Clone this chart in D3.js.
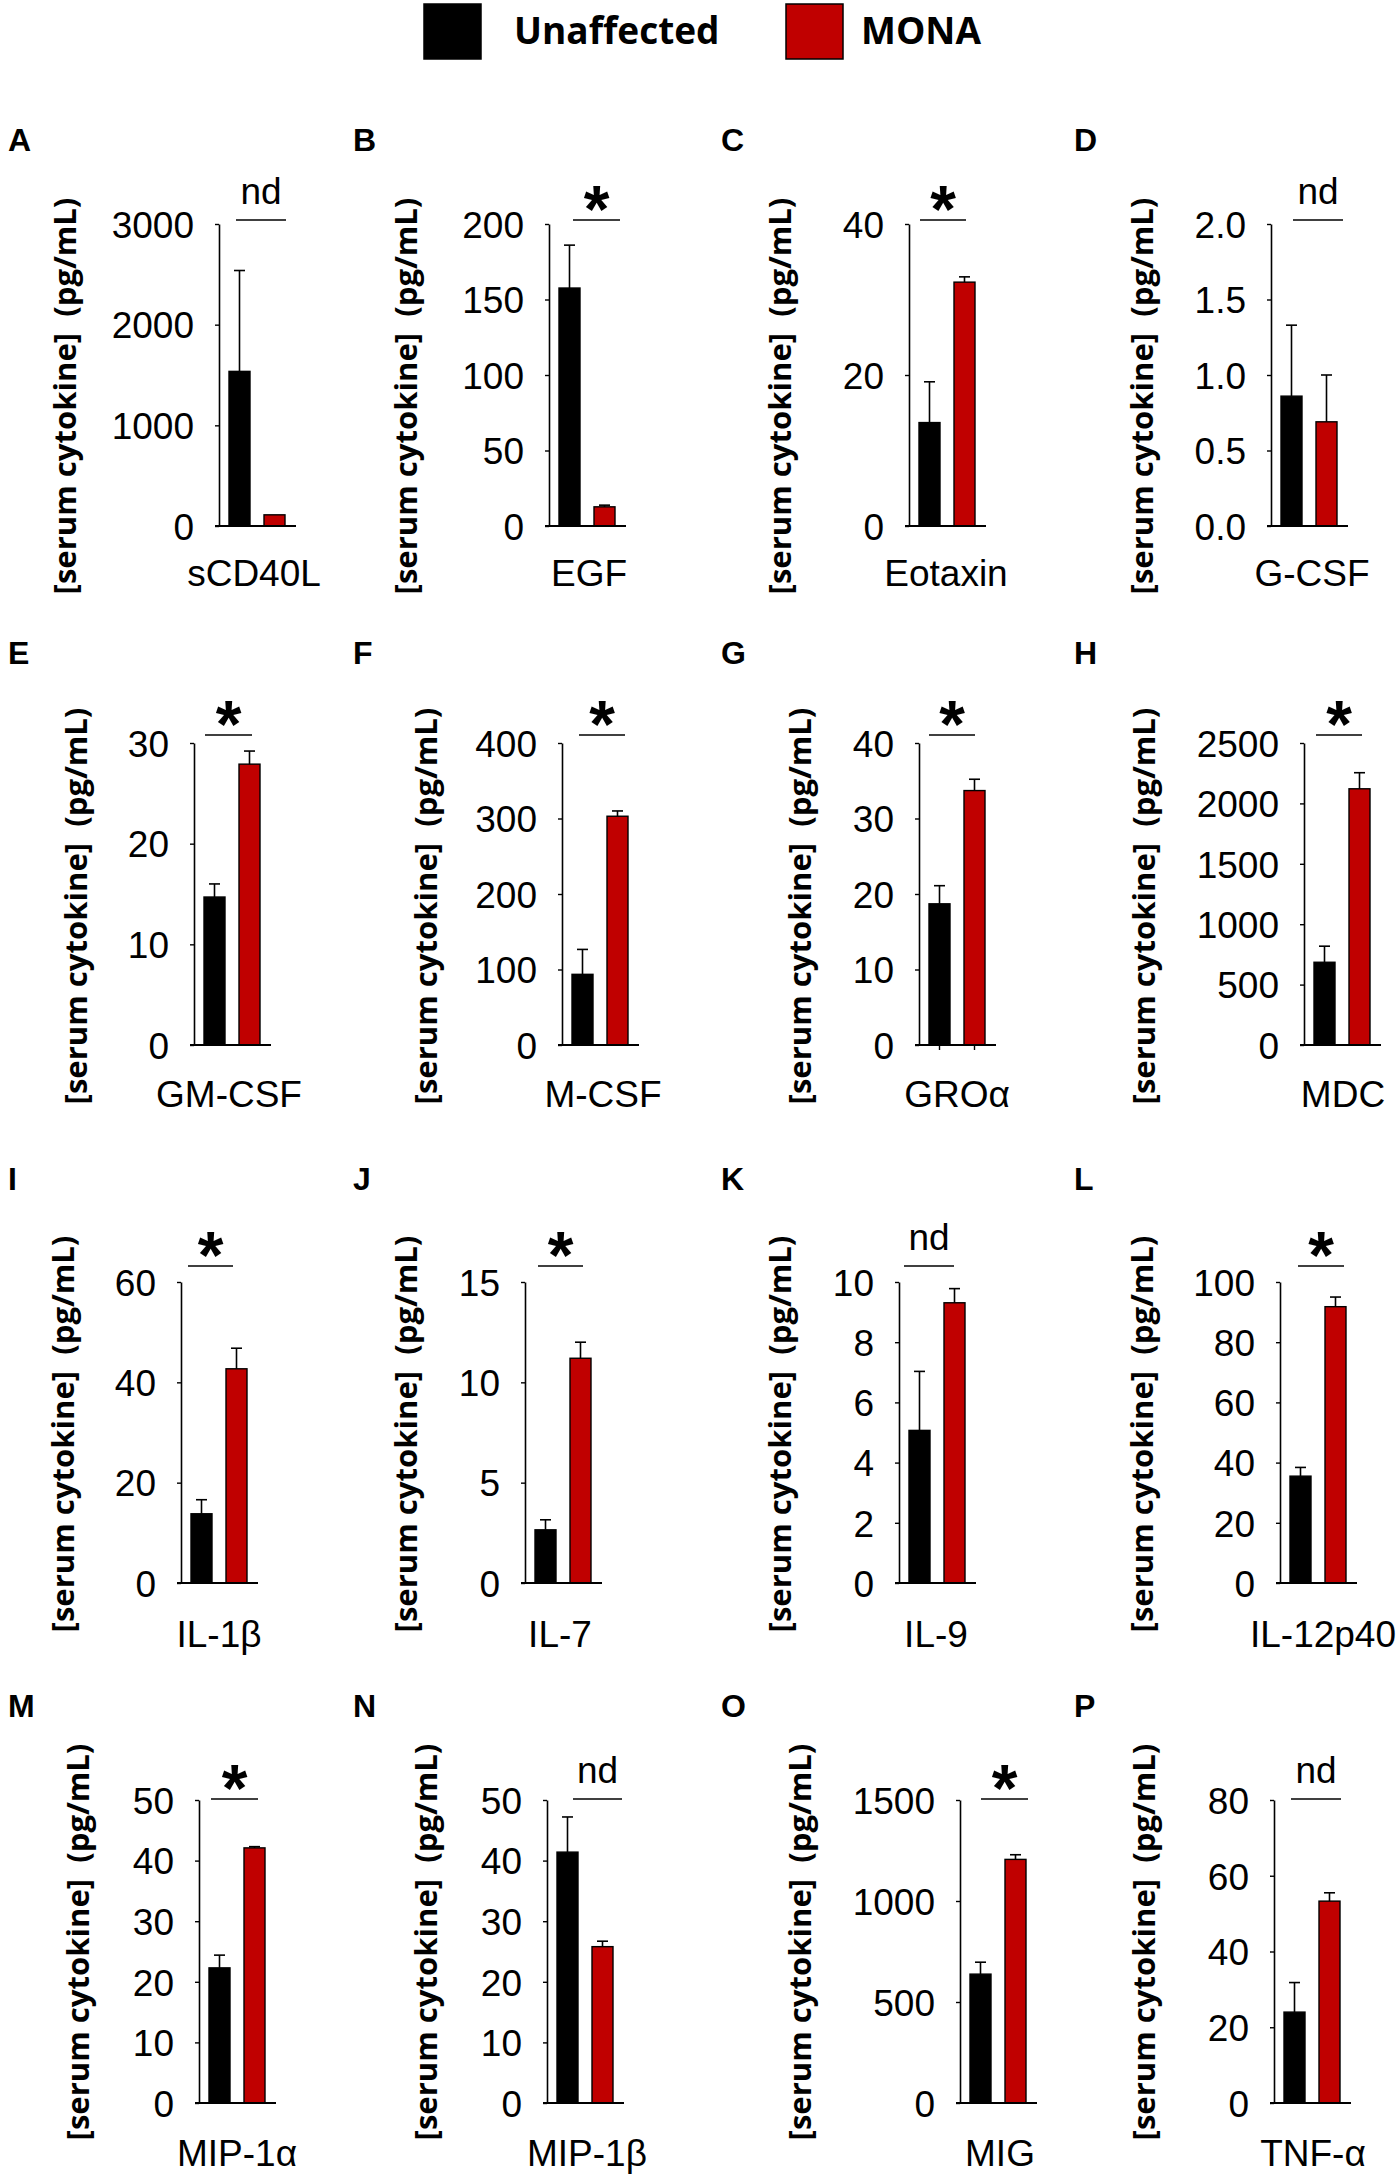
<!DOCTYPE html>
<html>
<head>
<meta charset="utf-8">
<script src="https://cdn.jsdelivr.net/npm/d3@7/dist/d3.min.js"></script>
<style>
  body { margin: 0; background: #fff; }
  svg { display: block; }
</style>
</head>
<body>
<div id="chart"></div>
<script>
// panel letters and cytokine names
var panels = ["A", "B", "C", "D", "E", "F", "G", "H", "I", "J", "K", "L", "M", "N", "O", "P"];
var cytokines = ["sCD40L", "EGF", "Eotaxin", "G-CSF", "GM-CSF", "M-CSF", "GRO\u03b1", "MDC",
  "IL-1\u03b2", "IL-7", "IL-9", "IL-12p40", "MIP-1\u03b1", "MIP-1\u03b2", "MIG", "TNF-\u03b1"];
var groups = ["Unaffected", "MONA"];

// mean values (pg/mL) and upper error (SEM)
var unaffected    = [1536, 157.6, 13.7, 0.86, 14.7, 93.6, 18.7, 685, 13.8, 2.65, 5.07, 35.5, 22.3, 41.4, 638, 24.0];
var unaffectedErr = [1002, 28.4, 5.4, 0.47, 1.3, 33, 2.4, 133, 2.8, 0.5, 1.96, 2.9, 2.1, 5.8, 59, 7.8];
var mona          = [111, 12.7, 32.3, 0.69, 27.9, 303, 33.7, 2121, 42.7, 11.2, 9.31, 91.8, 42.1, 25.8, 1206, 53.3];
var monaErr       = [0, 1.1, 0.7, 0.31, 1.3, 7, 1.5, 133, 4.1, 0.8, 0.47, 3.2, 0.2, 0.9, 23, 2.2];

// y axis range and tick step per panel
var yMax  = [3000, 200, 40, 2.0, 30, 400, 40, 2500, 60, 15, 10, 100, 50, 50, 1500, 80];
var yStep = [1000, 50, 20, 0.5, 10, 100, 10, 500, 20, 5, 2, 20, 10, 10, 500, 20];
var significance = ["nd", "*", "*", "nd", "*", "*", "*", "*", "*", "*", "nd", "*", "*", "nd", "*", "nd"];

// ---- layout (pixel positions only) ----
var W = 1400, H = 2183;
var axisX   = [219, 549, 909, 1271, 194, 562, 919, 1304, 181, 525, 899, 1280, 199, 547, 960, 1274];
var titleX  = [65, 406, 780, 1142, 76, 426, 800, 1144, 63, 406, 780, 1142, 78, 426, 800, 1144];
var catOff  = [35, 40, 37, 41, 35, 41, 38, 39, 38, 35, 37, 43, 38, 40, 40, 39];
var sigOff  = [[17, 67], [24, 71], [11, 57], [22, 72], [11, 58], [17, 63], [10, 56], [12, 58],
               [7, 52], [13, 58], [5, 55], [18, 64], [12, 59], [26, 75], [21, 68], [17, 67]];
var letterX = [8, 353, 721, 1074];
var rowTop    = [224, 743, 1282, 1800];
var rowBottom = [526, 1045, 1583, 2103];
var rowLetterY = [151, 664, 1190, 1717];
var rowSigY    = [220, 735, 1266, 1799];
var rowCatY    = [586, 1107, 1647, 2166];
var rowTitleY  = [396, 906, 1434, 1942];

var colors = { "Unaffected": "#000000", "MONA": "#c00000" };
var numFont = "'Liberation Sans', Arial, sans-serif";
var boldFont = "'Open Sans', 'Noto Sans', sans-serif";

var svg = d3.select("#chart").append("svg")
  .attr("width", W)
  .attr("height", H);

// legend
var legend = svg.append("g");
var legendBoxX = [424, 786];
var legendTextX = [514, 861];
groups.forEach(function(g, i) {
  legend.append("rect")
    .attr("x", legendBoxX[i]).attr("y", 4)
    .attr("width", 57).attr("height", 55)
    .attr("fill", colors[g])
    .attr("stroke", "#000").attr("stroke-width", 1.5);
  legend.append("text")
    .attr("x", legendTextX[i]).attr("y", 44)
    .attr("font-family", boldFont)
    .attr("font-weight", 700)
    .attr("font-size", 37)
    .text(g);
});

// one measured title, reused to fit the reference length
var probe = svg.append("text")
  .attr("font-family", boldFont).attr("font-weight", 700).attr("font-size", 29)
  .attr("xml:space", "preserve")
  .text("[serum cytokine]  (pg/mL)");
var probeLen = probe.node().getComputedTextLength();
probe.remove();
var titleSize = 29 * 397 / probeLen;

panels.forEach(function(p, i) {
  var row = Math.floor(i / 4), col = i % 4;
  var ax = axisX[i];
  var g = svg.append("g");

  var y = d3.scaleLinear()
    .domain([0, yMax[i]])
    .range([rowBottom[row], rowTop[row]]);

  var x = d3.scaleBand()
    .domain(groups)
    .range([ax + 10, ax + 66])
    .paddingInner(0.4);

  var vals = [
    { group: "Unaffected", v: unaffected[i], e: unaffectedErr[i] },
    { group: "MONA", v: mona[i], e: monaErr[i] }
  ];

  // panel letter
  g.append("text")
    .attr("x", letterX[col]).attr("y", rowLetterY[row])
    .attr("font-family", numFont).attr("font-weight", 700).attr("font-size", 32)
    .text(p);

  // y axis
  var ticks = d3.range(0, yMax[i] + yStep[i] / 2, yStep[i]);
  var fmt = yStep[i] < 1 ? d3.format(".1f") : d3.format("d");
  var yAxis = g.append("g")
    .attr("transform", "translate(" + ax + ",0)")
    .call(d3.axisLeft(y).tickValues(ticks).tickFormat(fmt)
      .tickSize(4).tickSizeOuter(0).tickPadding(21));
  yAxis.select(".domain").attr("stroke", "#000").attr("stroke-width", 1.6);
  yAxis.selectAll(".tick line").attr("stroke", "#000").attr("stroke-width", 1.4);
  yAxis.selectAll(".tick text")
    .attr("font-family", numFont).attr("font-size", 37).attr("fill", "#000")
    .attr("dy", "0.36em");

  // bars
  g.selectAll("rect.bar")
    .data(vals)
    .enter().append("rect")
    .attr("class", "bar")
    .attr("x", function(d) { return x(d.group); })
    .attr("y", function(d) { return y(d.v); })
    .attr("width", x.bandwidth())
    .attr("height", function(d) { return y(0) - y(d.v); })
    .attr("fill", function(d) { return colors[d.group]; })
    .attr("stroke", "#000").attr("stroke-width", 1.4);

  // error bars (upper only)
  var err = g.selectAll("g.err")
    .data(vals.filter(function(d) { return d.e > 0; }))
    .enter().append("g").attr("class", "err");
  err.append("line")
    .attr("x1", function(d) { return x(d.group) + x.bandwidth() / 2; })
    .attr("x2", function(d) { return x(d.group) + x.bandwidth() / 2; })
    .attr("y1", function(d) { return y(d.v); })
    .attr("y2", function(d) { return y(d.v + d.e); })
    .attr("stroke", "#000").attr("stroke-width", 1.6);
  err.append("line")
    .attr("x1", function(d) { return x(d.group) + x.bandwidth() / 2 - 5.5; })
    .attr("x2", function(d) { return x(d.group) + x.bandwidth() / 2 + 5.5; })
    .attr("y1", function(d) { return y(d.v + d.e); })
    .attr("y2", function(d) { return y(d.v + d.e); })
    .attr("stroke", "#000").attr("stroke-width", 1.6);

  // x baseline
  g.append("line")
    .attr("x1", ax - 4).attr("x2", ax + 77)
    .attr("y1", y(0)).attr("y2", y(0))
    .attr("stroke", "#000").attr("stroke-width", 1.8);

  if (p === "G") {
    g.selectAll("line.xtick")
      .data(groups)
      .enter().append("line")
      .attr("x1", function(d) { return x(d) + x.bandwidth() / 2; })
      .attr("x2", function(d) { return x(d) + x.bandwidth() / 2; })
      .attr("y1", y(0)).attr("y2", y(0) + 5)
      .attr("stroke", "#000").attr("stroke-width", 1.4);
  }

  // category label
  g.append("text")
    .attr("x", ax + catOff[i]).attr("y", rowCatY[row])
    .attr("text-anchor", "middle")
    .attr("font-family", numFont).attr("font-size", 37)
    .text(cytokines[i]);

  // y title
  g.append("text")
    .attr("transform", "translate(" + titleX[i] + "," + rowTitleY[row] + ") rotate(-90)")
    .attr("text-anchor", "middle")
    .attr("dy", "0.35em")
    .attr("xml:space", "preserve")
    .attr("font-family", boldFont).attr("font-weight", 700)
    .attr("font-size", titleSize)
    .text("[serum cytokine]  (pg/mL)");

  // significance bracket
  var sx0 = ax + sigOff[i][0], sx1 = ax + sigOff[i][1];
  var sy = rowSigY[row];
  g.append("line")
    .attr("x1", sx0).attr("x2", sx1)
    .attr("y1", sy).attr("y2", sy)
    .attr("stroke", "#000").attr("stroke-width", 1.6);
  if (significance[i] === "*") {
    g.append("text")
      .attr("x", (sx0 + sx1) / 2).attr("y", sy + 12)
      .attr("text-anchor", "middle")
      .attr("font-family", numFont).attr("font-weight", 700).attr("font-size", 66)
      .text("*");
  } else {
    g.append("text")
      .attr("x", (sx0 + sx1) / 2).attr("y", sy - 16)
      .attr("text-anchor", "middle")
      .attr("font-family", numFont).attr("font-size", 37)
      .text("nd");
  }
});
</script>
</body>
</html>
